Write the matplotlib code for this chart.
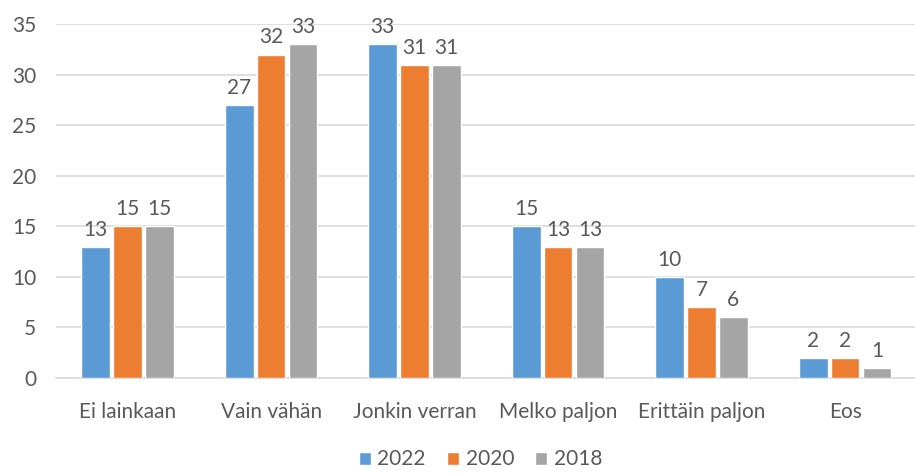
import matplotlib.pyplot as plt
import numpy as np

plt.rcParams['font.family'] = ['Lato', 'DejaVu Sans']

categories = ['Ei lainkaan', 'Vain vähän', 'Jonkin verran', 'Melko paljon', 'Erittäin paljon', 'Eos']
years = ['2022', '2020', '2018']
v2022 = [13, 27, 33, 15, 10, 2]
v2020 = [15, 32, 31, 13, 7, 2]
v2018 = [15, 33, 31, 13, 6, 1]
colors = ['#5B9BD5', '#ED7D31', '#A5A5A5']
text_color = '#595959'
fs = 15

fig = plt.figure(figsize=(9.15, 4.74), dpi=100)
ax = fig.add_axes([0.061, 0.2025, 0.941, 0.7465])

x = np.arange(len(categories))
pitch = 0.222
for i, (vals, col, yr) in enumerate(zip([v2022, v2020, v2018], colors, years)):
    bars = ax.bar(x + (i - 1) * pitch, vals, width=0.2, color=col,
                  edgecolor='white', linewidth=1.0, label=yr, zorder=3)
    for b, v in zip(bars, vals):
        ax.text(b.get_x() + b.get_width() / 2, v + 0.7, str(v), ha='center',
                va='bottom', fontsize=fs, color=text_color)

ax.set_xlim(-0.5, len(categories) - 0.5)
ax.set_ylim(0, 35)
ax.set_yticks(range(0, 36, 5))
ax.set_xticks(x)
ax.set_xticklabels(categories)
ax.tick_params(axis='both', length=0, labelsize=fs, colors=text_color)
ax.tick_params(axis='x', pad=17)
ax.tick_params(axis='y', pad=14)
ax.yaxis.grid(True, color='#D9D9D9', linewidth=1.2, zorder=0)
for s in ['top', 'right', 'left']:
    ax.spines[s].set_visible(False)
ax.spines['bottom'].set_color('#D9D9D9')
ax.spines['bottom'].set_linewidth(1.2)

fig.legend(loc='lower center', bbox_to_anchor=(0.525, -0.03), ncol=3, frameon=False,
           fontsize=fs, handlelength=0.6, handleheight=0.6, handletextpad=0.3,
           columnspacing=1.0, labelcolor=text_color)

fig.savefig('out.png', dpi=100)
